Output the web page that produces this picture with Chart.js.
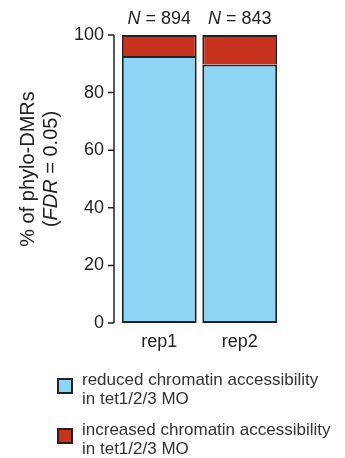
<!DOCTYPE html>
<html>
<head>
<meta charset="utf-8">
<script src="https://cdn.jsdelivr.net/npm/chart.js@4"></script>
<style>
  html, body { margin: 0; padding: 0; background: #fff; }
  #wrap { width: 345px; height: 458px; }
</style>
</head>
<body>
<div id="wrap"><canvas id="chart" width="345" height="458"></canvas></div>
<script>
var reps = ['rep1', 'rep2'];
var counts = [894, 843];
var reduced = [92.7, 89.8];
var increased = [7.3, 10.2];
var yTicks = [0, 20, 40, 60, 80, 100];

var blue = '#8ed5f5';
var red = '#c9311f';
var ink = '#222222';
var font = '"Liberation Sans", Arial, sans-serif';

// axis bracket, N labels, y title and legend
var extras = {
  id: 'extras',
  afterDraw: function (chart) {
    var c = chart.ctx;
    var y = chart.scales.y;
    var x = chart.scales.x;
    var ax = chart.chartArea.left - 5;
    c.save();
    c.strokeStyle = ink;
    c.lineWidth = 1.5;
    c.beginPath();
    c.moveTo(ax, y.getPixelForValue(100));
    c.lineTo(ax, y.getPixelForValue(0));
    yTicks.forEach(function (v) {
      var py = y.getPixelForValue(v);
      c.moveTo(ax - 6, py);
      c.lineTo(ax, py);
    });
    c.stroke();

    // N = ... above bars
    c.fillStyle = ink;
    c.textBaseline = 'middle';
    reps.forEach(function (r, i) {
      var cx = x.getPixelForValue(i);
      c.font = 'italic 18px ' + font;
      var wa = c.measureText('N').width;
      c.font = '18px ' + font;
      var b = ' = ' + counts[i];
      var wb = c.measureText(b).width;
      var sx = cx - (wa + wb) / 2;
      c.textAlign = 'left';
      c.font = 'italic 18px ' + font;
      c.fillText('N', sx, 19);
      c.font = '18px ' + font;
      c.fillText(b, sx + wa, 19);
    });

    // rotated y title
    c.save();
    c.translate(28, 169);
    c.rotate(-Math.PI / 2);
    c.textAlign = 'center';
    c.font = '20px ' + font;
    c.fillText('% of phylo-DMRs', 0, 0);
    var p1 = '(', p2 = 'FDR', p3 = ' = 0.05)';
    var w1 = c.measureText(p1).width;
    c.font = 'italic 20px ' + font;
    var w2 = c.measureText(p2).width;
    c.font = '20px ' + font;
    var w3 = c.measureText(p3).width;
    var sx2 = -(w1 + w2 + w3) / 2;
    c.textAlign = 'left';
    c.fillText(p1, sx2, 23);
    c.font = 'italic 20px ' + font;
    c.fillText(p2, sx2 + w1, 23);
    c.font = '20px ' + font;
    c.fillText(p3, sx2 + w1 + w2, 23);
    c.restore();

    // legend
    var items = [
      { color: blue, lines: ['reduced chromatin accessibility', 'in tet1/2/3 MO'], top: 380 },
      { color: red, lines: ['increased chromatin accessibility', 'in tet1/2/3 MO'], top: 430 }
    ];
    c.font = '17px ' + font;
    c.textAlign = 'left';
    items.forEach(function (it) {
      c.fillStyle = it.color;
      c.fillRect(58, it.top - 1, 14, 14);
      c.strokeStyle = ink;
      c.lineWidth = 2;
      c.strokeRect(58, it.top - 1, 14, 14);
      c.fillStyle = '#333';
      c.fillText(it.lines[0], 82, it.top);
      c.fillText(it.lines[1], 82, it.top + 19.5);
    });
    c.restore();
  }
};

var ctx = document.getElementById('chart').getContext('2d');
var myChart = new Chart(ctx, {
  type: 'bar',
  data: {
    labels: reps,
    datasets: [{
        label: 'reduced chromatin accessibility in tet1/2/3 MO',
        data: reduced,
        backgroundColor: blue,
        borderColor: ink,
        borderWidth: 2,
        borderSkipped: false,
        inflateAmount: 0,
        categoryPercentage: 1,
        barPercentage: 0.93
      },
      {
        label: 'increased chromatin accessibility in tet1/2/3 MO',
        data: increased,
        backgroundColor: red,
        borderColor: ink,
        borderWidth: { top: 2, left: 2, right: 2, bottom: 0 },
        borderSkipped: false,
        inflateAmount: 0,
        categoryPercentage: 1,
        barPercentage: 0.93
      }
    ]
  },
  options: {
    responsive: false,
    animation: false,
    layout: {
      padding: { left: 0, top: 35, right: 65, bottom: 95 }
    },
    plugins: {
      legend: { display: false },
      tooltip: { enabled: false }
    },
    scales: {
      x: {
        stacked: true,
        grid: { display: false, drawTicks: false },
        border: { display: false },
        ticks: { color: ink, font: { family: font, size: 18 }, padding: 8 },
        afterFit: function (s) { s.height = 40; }
      },
      y: {
        stacked: true,
        min: 0,
        max: 100,
        grid: { display: false, drawTicks: false },
        border: { display: false },
        ticks: { stepSize: 20, color: ink, font: { family: font, size: 18 }, padding: 15 },
        afterFit: function (s) { s.width = 119; }
      }
    }
  },
  plugins: [extras]
});
</script>
</body>
</html>
